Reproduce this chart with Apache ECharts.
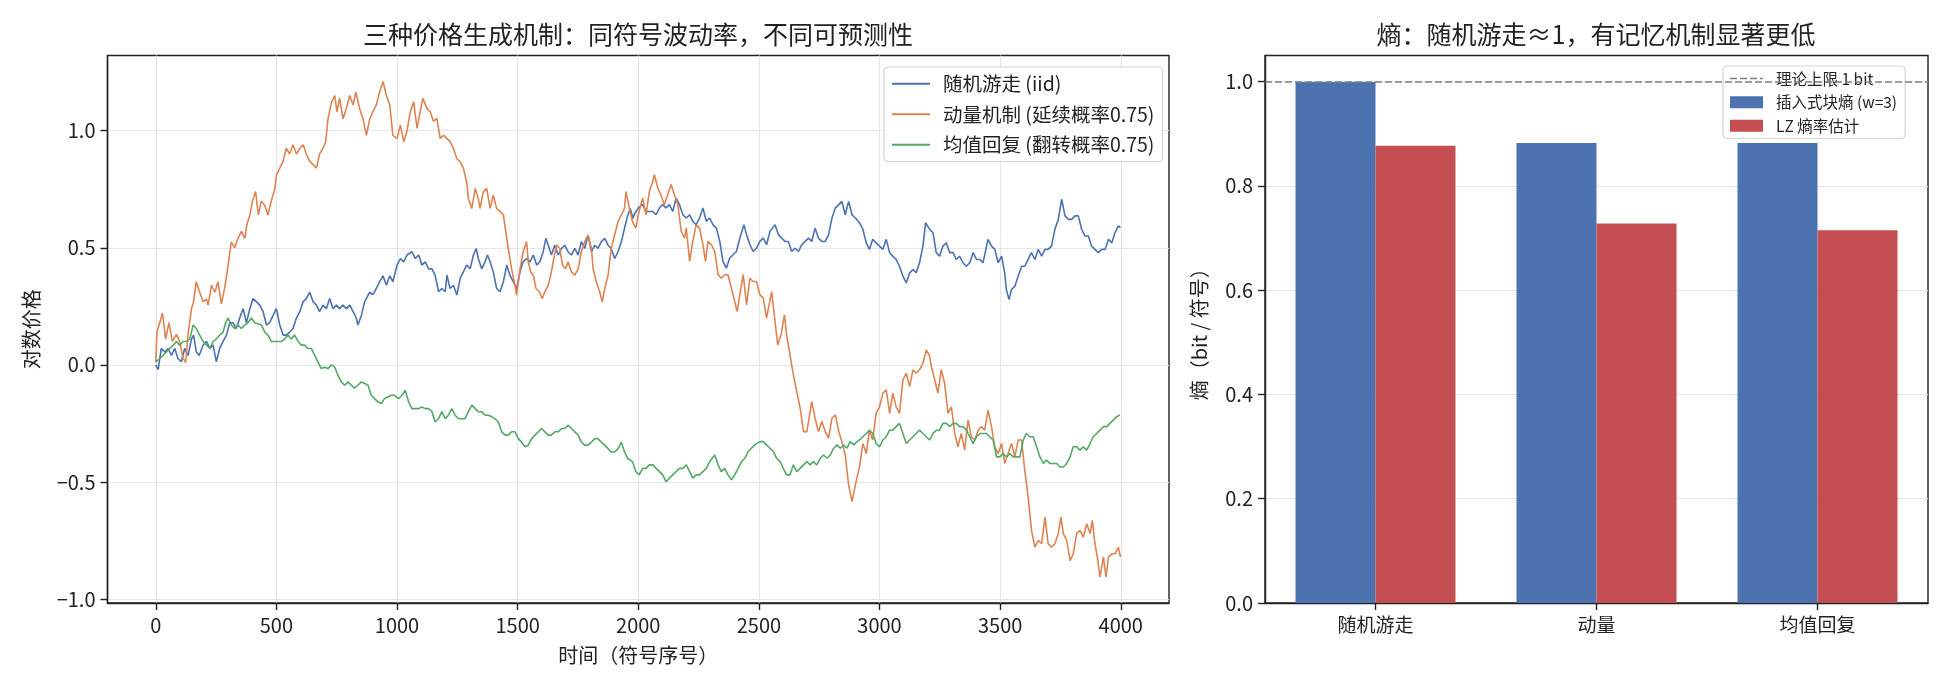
<!DOCTYPE html>
<html>
<head>
<meta charset="utf-8">
<script src="https://cdn.jsdelivr.net/npm/echarts@6/dist/echarts.min.js"></script>
<style>
html, body { margin: 0; padding: 0; background: #fff; }
#main { width: 1950px; height: 690px; }
</style>
</head>
<body>
<div id="main"></div>
<script>
// 左图：三种机制下的对数价格路径 [时间, 对数价格]
const randomWalk = [
  [0,0.0],[10,-0.02],[23,0.07],[37,0.055],[51,0.07],[65,0.04],[79,0.07],[92,0.027],[106,0.013],[120,0.07],[134,0.04],[148,0.11],[157,0.127],[168,0.055],[180,0.04],[196,0.084],[210,0.10],[224,0.07],[238,0.084],[251,0.013],[265,0.07],[279,0.10],[293,0.127],[307,0.18],[320,0.18],[334,0.155],[348,0.20],[362,0.24],[376,0.18],[390,0.24],[403,0.283],[417,0.27],[431,0.255],[445,0.227],[459,0.17],[472,0.18],[486,0.21],[500,0.24],[514,0.17],[528,0.127],[541,0.127],[555,0.14],[569,0.155],[583,0.20],[597,0.227],[611,0.27],[624,0.283],[638,0.31],[652,0.27],[666,0.255],[679,0.227],[693,0.255],[707,0.24],[721,0.283],[735,0.24],[749,0.255],[762,0.24],[776,0.255],[790,0.24],[804,0.255],[818,0.227],[831,0.20],[838,0.17],[852,0.21],[866,0.27],[887,0.31],[900,0.30],[914,0.326],[928,0.355],[942,0.38],[956,0.34],[970,0.38],[983,0.355],
  [1000,0.426],[1014,0.454],[1028,0.44],[1041,0.469],[1062,0.483],[1076,0.454],[1090,0.469],[1103,0.426],[1117,0.44],[1131,0.41],[1145,0.41],[1158,0.383],[1172,0.312],[1186,0.326],[1200,0.312],[1207,0.383],[1220,0.326],[1234,0.34],[1248,0.298],[1262,0.369],[1275,0.397],[1289,0.426],[1303,0.41],[1317,0.469],[1328,0.497],[1337,0.454],[1351,0.41],[1365,0.44],[1375,0.469],[1386,0.44],[1399,0.397],[1413,0.326],[1427,0.312],[1441,0.355],[1455,0.426],[1468,0.383],[1482,0.355],[1496,0.326],[1510,0.397],[1523,0.44],[1537,0.454],[1551,0.44],[1565,0.469],[1579,0.426],[1592,0.44],[1606,0.483],[1617,0.54],[1627,0.511],[1640,0.469],[1654,0.511],[1668,0.469],[1682,0.497],[1695,0.511],[1709,0.483],[1723,0.469],[1737,0.497],[1751,0.469],[1764,0.526],[1778,0.497],[1792,0.554],[1806,0.483],[1820,0.511],[1833,0.497],[1847,0.526],[1861,0.54],[1875,0.511],[1888,0.497],[1902,0.454],[1916,0.483],[1930,0.526],[1943,0.583],[1957,0.64],[1967,0.668],[1978,0.625],
  [1983,0.641],[2000,0.67],[2018,0.684],[2032,0.655],[2046,0.655],[2060,0.655],[2074,0.641],[2088,0.67],[2101,0.684],[2115,0.67],[2129,0.684],[2143,0.655],[2157,0.712],[2171,0.684],[2185,0.641],[2199,0.627],[2213,0.641],[2226,0.613],[2240,0.598],[2254,0.627],[2268,0.67],[2282,0.613],[2296,0.627],[2310,0.598],[2324,0.584],[2338,0.527],[2351,0.442],[2365,0.413],[2379,0.456],[2393,0.47],[2407,0.484],[2421,0.541],[2438,0.598],[2449,0.556],[2463,0.513],[2476,0.484],[2490,0.498],[2504,0.527],[2518,0.541],[2532,0.513],[2546,0.57],[2567,0.598],[2581,0.556],[2594,0.541],[2608,0.527],[2622,0.527],[2636,0.484],[2650,0.498],[2664,0.484],[2678,0.513],[2692,0.527],[2706,0.541],[2719,0.527],[2733,0.584],[2747,0.541],[2761,0.527],[2775,0.527],[2789,0.556],[2803,0.627],[2817,0.67],[2831,0.684],[2844,0.698],[2858,0.641],[2872,0.698],[2886,0.641],[2900,0.627],
  [2917,0.607],[2931,0.579],[2945,0.521],[2958,0.493],[2972,0.536],[2986,0.521],[3000,0.507],[3014,0.493],[3028,0.536],[3042,0.479],[3055,0.464],[3069,0.45],[3083,0.421],[3097,0.379],[3111,0.35],[3125,0.393],[3139,0.407],[3152,0.393],[3166,0.436],[3180,0.507],[3191,0.607],[3208,0.579],[3222,0.564],[3235,0.479],[3249,0.464],[3263,0.507],[3277,0.521],[3291,0.479],[3305,0.479],[3318,0.45],[3332,0.464],[3346,0.436],[3360,0.421],[3374,0.436],[3388,0.479],[3402,0.45],[3416,0.45],[3429,0.436],[3450,0.536],[3464,0.507],[3478,0.493],[3492,0.436],[3506,0.464],[3519,0.393],[3526,0.321],[3537,0.279],[3547,0.321],[3561,0.336],[3575,0.379],[3589,0.421],[3602,0.421],[3616,0.45],[3630,0.479],[3644,0.45],[3658,0.493],[3672,0.464],[3686,0.493],[3699,0.493],[3713,0.507],[3727,0.579],[3741,0.621],[3755,0.707],[3769,0.636],[3783,0.621],[3796,0.621],[3810,0.636],[3824,0.636],[3838,0.579],[3852,0.55],[3866,0.55],[3879,0.507],[3893,0.493],[3907,0.479],[3921,0.493],[3935,0.493],[3949,0.536],[3963,0.521],[3976,0.564],[3990,0.593],[3999,0.586]
];
const momentum = [
  [0,0.01],[5,0.14],[28,0.22],[41,0.11],[55,0.18],[69,0.10],[86,0.13],[99,0.10],[113,0.03],[124,0.01],[134,0.13],[148,0.24],[157,0.27],[168,0.355],[182,0.31],[196,0.27],[210,0.28],[217,0.255],[231,0.34],[245,0.31],[258,0.355],[272,0.26],[286,0.33],[300,0.425],[313,0.525],[327,0.50],[341,0.54],[355,0.57],[369,0.54],[378,0.60],[390,0.64],[401,0.70],[414,0.74],[425,0.64],[438,0.70],[452,0.68],[465,0.64],[479,0.70],[493,0.75],[500,0.81],[514,0.84],[528,0.87],[541,0.925],[555,0.90],[569,0.94],[583,0.90],[597,0.925],[611,0.94],[624,0.90],[638,0.87],[652,0.855],[666,0.84],[679,0.90],[693,0.925],[704,0.95],[714,1.05],[728,1.12],[742,1.15],[751,1.08],[762,1.14],[776,1.05],[790,1.095],[804,1.15],[818,1.11],[829,1.165],[845,1.095],[859,1.05],[873,0.98],[887,1.05],[900,1.08],[914,1.11],[928,1.165],[942,1.21],[956,1.15],[970,1.11],[983,0.98],
  [1000,0.967],[1014,1.024],[1028,0.953],[1041,0.996],[1055,1.08],[1069,1.124],[1083,1.01],[1096,1.08],[1107,1.138],[1124,1.095],[1138,1.08],[1151,1.04],[1165,1.053],[1179,0.967],[1193,0.98],[1207,0.967],[1220,0.953],[1234,0.924],[1248,0.88],[1262,0.867],[1275,0.84],[1289,0.78],[1296,0.71],[1310,0.668],[1324,0.753],[1337,0.71],[1344,0.668],[1358,0.74],[1372,0.753],[1386,0.668],[1399,0.725],[1413,0.668],[1427,0.654],[1441,0.64],[1448,0.64],[1461,0.497],[1475,0.41],[1489,0.34],[1496,0.298],[1510,0.41],[1523,0.483],[1537,0.526],[1544,0.44],[1554,0.397],[1565,0.383],[1576,0.326],[1590,0.312],[1602,0.283],[1613,0.312],[1627,0.34],[1640,0.397],[1650,0.454],[1661,0.511],[1675,0.497],[1686,0.426],[1699,0.41],[1709,0.44],[1723,0.397],[1737,0.383],[1751,0.41],[1764,0.483],[1778,0.526],[1792,0.554],[1806,0.497],[1813,0.41],[1826,0.355],[1840,0.312],[1851,0.269],[1861,0.326],[1875,0.383],[1888,0.497],[1902,0.554],[1916,0.611],[1930,0.64],[1943,0.668],
  [1949,0.74],[1963,0.67],[1976,0.613],[1990,0.584],[2000,0.641],[2018,0.712],[2032,0.641],[2046,0.74],[2060,0.783],[2067,0.812],[2081,0.755],[2094,0.726],[2108,0.684],[2122,0.726],[2136,0.77],[2150,0.726],[2164,0.684],[2178,0.57],[2192,0.541],[2199,0.584],[2213,0.442],[2226,0.527],[2240,0.598],[2254,0.584],[2268,0.513],[2279,0.442],[2289,0.527],[2303,0.513],[2317,0.484],[2331,0.385],[2344,0.37],[2358,0.385],[2372,0.385],[2386,0.328],[2400,0.27],[2410,0.228],[2421,0.30],[2435,0.385],[2449,0.256],[2463,0.37],[2476,0.356],[2490,0.356],[2504,0.30],[2518,0.285],[2532,0.20],[2553,0.313],[2567,0.185],[2578,0.085],[2592,0.128],[2606,0.214],[2615,0.128],[2629,0.043],[2643,-0.043],[2657,-0.114],[2671,-0.185],[2685,-0.285],[2699,-0.285],[2719,-0.157],[2733,-0.228],[2747,-0.285],[2761,-0.242],[2775,-0.285],[2789,-0.313],[2803,-0.228],[2817,-0.214],[2831,-0.285],[2844,-0.328],[2858,-0.385],[2872,-0.513],[2886,-0.584],[2900,-0.513],
  [2917,-0.436],[2931,-0.336],[2945,-0.379],[2958,-0.279],[2972,-0.321],[2986,-0.207],[3000,-0.179],[3014,-0.121],[3028,-0.107],[3042,-0.207],[3055,-0.121],[3069,-0.179],[3083,-0.207],[3097,-0.064],[3111,-0.036],[3125,-0.093],[3139,-0.021],[3152,-0.036],[3166,-0.021],[3180,0.007],[3194,0.064],[3208,0.036],[3215,-0.007],[3229,-0.064],[3242,-0.121],[3256,-0.021],[3270,-0.079],[3284,-0.207],[3298,-0.179],[3312,-0.293],[3325,-0.35],[3339,-0.293],[3353,-0.364],[3367,-0.236],[3381,-0.307],[3395,-0.321],[3409,-0.279],[3422,-0.264],[3436,-0.279],[3450,-0.193],[3464,-0.264],[3478,-0.35],[3492,-0.379],[3506,-0.336],[3519,-0.421],[3533,-0.379],[3547,-0.336],[3561,-0.393],[3575,-0.321],[3589,-0.321],[3602,-0.45],[3616,-0.564],[3630,-0.707],[3644,-0.779],[3658,-0.75],[3672,-0.764],[3686,-0.65],[3699,-0.764],[3713,-0.779],[3727,-0.764],[3741,-0.721],[3752,-0.65],[3762,-0.721],[3776,-0.75],[3790,-0.836],[3803,-0.807],[3817,-0.721],[3831,-0.707],[3845,-0.736],[3859,-0.679],[3873,-0.721],[3882,-0.664],[3893,-0.764],[3903,-0.821],[3914,-0.907],[3928,-0.821],[3939,-0.907],[3949,-0.821],[3963,-0.807],[3976,-0.807],[3990,-0.779],[3999,-0.821]
];
const meanRevert = [
  [0,0.013],[17,0.027],[30,0.04],[44,0.055],[58,0.07],[72,0.084],[86,0.10],[99,0.084],[113,0.10],[127,0.10],[141,0.11],[155,0.17],[168,0.155],[182,0.127],[196,0.10],[210,0.084],[224,0.07],[238,0.10],[251,0.11],[265,0.127],[279,0.14],[290,0.18],[300,0.20],[313,0.17],[327,0.155],[341,0.17],[355,0.155],[369,0.17],[383,0.18],[396,0.20],[410,0.18],[424,0.175],[438,0.17],[452,0.14],[465,0.127],[479,0.10],[493,0.10],[507,0.10],[521,0.10],[534,0.11],[548,0.127],[562,0.11],[576,0.127],[590,0.10],[604,0.084],[617,0.084],[631,0.07],[645,0.07],[659,0.04],[672,0.013],[686,-0.016],[700,-0.01],[714,-0.016],[728,0.0],[742,-0.01],[755,-0.044],[769,-0.073],[783,-0.087],[797,-0.073],[811,-0.087],[824,-0.10],[838,-0.087],[852,-0.073],[866,-0.08],[880,-0.087],[893,-0.13],[907,-0.144],[921,-0.158],[935,-0.165],[948,-0.144],[962,-0.137],[976,-0.13],[990,-0.13],
  [1007,-0.144],[1021,-0.13],[1034,-0.108],[1048,-0.158],[1062,-0.187],[1076,-0.187],[1090,-0.187],[1103,-0.18],[1117,-0.187],[1131,-0.187],[1145,-0.20],[1158,-0.244],[1172,-0.23],[1186,-0.20],[1200,-0.23],[1213,-0.215],[1227,-0.187],[1241,-0.215],[1255,-0.23],[1269,-0.23],[1282,-0.23],[1296,-0.20],[1310,-0.172],[1324,-0.187],[1337,-0.20],[1351,-0.20],[1365,-0.215],[1379,-0.215],[1393,-0.222],[1406,-0.23],[1420,-0.244],[1434,-0.286],[1448,-0.30],[1461,-0.30],[1475,-0.286],[1489,-0.286],[1503,-0.315],[1516,-0.33],[1530,-0.35],[1544,-0.343],[1558,-0.315],[1572,-0.30],[1586,-0.286],[1599,-0.272],[1613,-0.286],[1627,-0.30],[1640,-0.30],[1654,-0.286],[1668,-0.286],[1682,-0.272],[1695,-0.272],[1709,-0.258],[1723,-0.272],[1737,-0.286],[1751,-0.30],[1764,-0.33],[1778,-0.343],[1792,-0.343],[1806,-0.33],[1820,-0.315],[1833,-0.315],[1847,-0.33],[1861,-0.343],[1875,-0.358],[1888,-0.372],[1902,-0.372],[1916,-0.358],[1930,-0.33],[1943,-0.372],[1957,-0.40],
  [1976,-0.413],[1990,-0.456],[2004,-0.47],[2018,-0.442],[2032,-0.442],[2046,-0.427],[2060,-0.427],[2074,-0.442],[2088,-0.456],[2101,-0.47],[2115,-0.499],[2129,-0.484],[2143,-0.47],[2157,-0.456],[2171,-0.442],[2185,-0.442],[2199,-0.427],[2213,-0.456],[2226,-0.484],[2240,-0.47],[2254,-0.47],[2268,-0.456],[2282,-0.442],[2296,-0.413],[2317,-0.385],[2331,-0.427],[2344,-0.456],[2358,-0.442],[2372,-0.47],[2386,-0.491],[2400,-0.47],[2414,-0.442],[2428,-0.413],[2442,-0.399],[2456,-0.37],[2469,-0.356],[2483,-0.342],[2504,-0.328],[2518,-0.328],[2532,-0.342],[2546,-0.356],[2560,-0.37],[2574,-0.399],[2588,-0.413],[2601,-0.442],[2615,-0.47],[2629,-0.47],[2643,-0.427],[2657,-0.456],[2671,-0.442],[2685,-0.427],[2699,-0.413],[2713,-0.427],[2726,-0.413],[2740,-0.427],[2754,-0.399],[2768,-0.385],[2782,-0.399],[2796,-0.385],[2810,-0.356],[2824,-0.342],[2838,-0.356],[2851,-0.342],[2865,-0.356],[2879,-0.328],[2893,-0.342],[2907,-0.328],
  [2917,-0.321],[2931,-0.307],[2945,-0.293],[2958,-0.279],[2972,-0.293],[2986,-0.336],[3000,-0.35],[3014,-0.321],[3028,-0.307],[3042,-0.279],[3055,-0.279],[3069,-0.264],[3083,-0.25],[3097,-0.293],[3111,-0.336],[3125,-0.321],[3139,-0.307],[3152,-0.293],[3166,-0.279],[3180,-0.293],[3194,-0.307],[3208,-0.321],[3222,-0.293],[3235,-0.279],[3249,-0.279],[3263,-0.25],[3277,-0.25],[3291,-0.264],[3305,-0.25],[3318,-0.25],[3332,-0.264],[3346,-0.264],[3360,-0.279],[3374,-0.307],[3388,-0.336],[3402,-0.307],[3416,-0.293],[3429,-0.293],[3443,-0.293],[3457,-0.307],[3471,-0.321],[3485,-0.393],[3499,-0.393],[3512,-0.379],[3526,-0.393],[3540,-0.379],[3554,-0.393],[3568,-0.393],[3582,-0.393],[3596,-0.321],[3609,-0.293],[3623,-0.307],[3637,-0.307],[3651,-0.35],[3665,-0.393],[3679,-0.421],[3692,-0.407],[3706,-0.421],[3720,-0.421],[3734,-0.421],[3748,-0.436],[3762,-0.436],[3776,-0.421],[3790,-0.393],[3803,-0.35],[3817,-0.35],[3831,-0.364],[3845,-0.35],[3859,-0.364],[3873,-0.336],[3886,-0.307],[3900,-0.293],[3914,-0.279],[3928,-0.264],[3942,-0.264],[3955,-0.25],[3969,-0.236],[3983,-0.221],[3997,-0.214]
];
const timeTicks = [0, 500, 1000, 1500, 2000, 2500, 3000, 3500, 4000];
const priceTicks = [-1.0, -0.5, 0.0, 0.5, 1.0];

// 右图：各机制的熵估计
const mechanisms = ['随机游走', '动量', '均值回复'];
const blockEntropy = [0.999, 0.882, 0.882];
const lzEntropy = [0.877, 0.728, 0.715];
const entropyTicks = [0.0, 0.2, 0.4, 0.6, 0.8, 1.0];
const upperBound = 1.0;

const FONT = "'Noto Sans CJK SC', 'Noto Sans', sans-serif";
const INK = '#222';
const GRID_LINE = '#e6e6e6';
const fmt = v => (v < 0 ? '\u2212' : '') + Math.abs(v).toFixed(1);

// 图例图标：实线、虚线（四角的极小三角只用来撑开图标范围）
const LINE_ICON = 'path://M0,0L0.01,0L0.01,0.01Z M0,8h38v2h-38z M38,18L37.99,18L37.99,17.99Z';
const DASH_ICON = 'path://M0,0L0.01,0L0.01,0.01Z M0,5h7v1.6h-7z M10,5h7v1.6h-7z M20,5h7v1.6h-7z M30,5h3v1.6h-3z M33,12L32.99,12L32.99,11.99Z';

const chart = echarts.init(document.getElementById('main'), null, { renderer: 'canvas' });

const axisLine = { show: true, onZero: false, lineStyle: { color: INK, width: 1.4 } };
const axisTick = { show: true, length: 7, inside: false, lineStyle: { color: INK, width: 1.4 } };
const axisLabel = { color: INK, fontSize: 20, fontFamily: FONT, margin: 12 };
const nameTextStyle = { color: INK, fontSize: 20, fontFamily: FONT };

chart.setOption({
  animation: false,
  backgroundColor: '#fff',
  textStyle: { fontFamily: FONT },
  title: [{
    text: '三种价格生成机制：同符号波动率，不同可预测性',
    left: 638, top: 22, textAlign: 'center', padding: 0,
    textStyle: { fontSize: 25, fontWeight: 'normal', color: INK, fontFamily: FONT }
  }, {
    text: '熵：随机游走≈1，有记忆机制显著更低',
    left: 1596, top: 22, textAlign: 'center', padding: 0,
    textStyle: { fontSize: 25, fontWeight: 'normal', color: INK, fontFamily: FONT }
  }],
  legend: [{
    data: [
      { name: '随机游走 (iid)', icon: LINE_ICON },
      { name: '动量机制 (延续概率0.75)', icon: LINE_ICON },
      { name: '均值回复 (翻转概率0.75)', icon: LINE_ICON }
    ],
    orient: 'vertical', left: 884, top: 67,
    padding: [7, 8, 7, 8], itemGap: 11,
    itemWidth: 38, itemHeight: 18,
    backgroundColor: 'rgba(255,255,255,0.85)',
    borderColor: '#d5d5d5', borderWidth: 1.2, borderRadius: 4,
    textStyle: { fontSize: 19.5, color: INK, fontFamily: FONT, padding: [0, 0, 0, 8] }
  }, {
    data: [
      { name: '理论上限 1 bit', icon: DASH_ICON },
      { name: '插入式块熵 (w=3)', icon: 'rect' },
      { name: 'LZ 熵率估计', icon: 'rect' }
    ],
    orient: 'vertical', left: 1723, top: 66,
    padding: [5, 8, 5, 7], itemGap: 8,
    itemWidth: 33, itemHeight: 12,
    backgroundColor: 'rgba(255,255,255,0.85)',
    borderColor: '#d5d5d5', borderWidth: 1.2, borderRadius: 4,
    textStyle: { fontSize: 15.5, color: INK, fontFamily: FONT, padding: [0, 0, 0, 8] }
  }],
  grid: [{
    left: 107.5, top: 55.5, width: 1061.5, height: 547.5,
    show: true, borderColor: INK, borderWidth: 1.4, backgroundColor: 'transparent'
  }, {
    left: 1265, top: 55.5, width: 663, height: 547.5,
    show: true, borderColor: INK, borderWidth: 1.4, backgroundColor: 'transparent'
  }],
  xAxis: [{
    type: 'value', gridIndex: 0, min: -200, max: 4200,
    name: '时间（符号序号）', nameLocation: 'middle', nameGap: 42, nameTextStyle,
    axisLine,
    axisTick: Object.assign({}, axisTick, { customValues: timeTicks }),
    axisLabel: Object.assign({}, axisLabel, { customValues: timeTicks, formatter: v => String(v) }),
    splitLine: { show: true, lineStyle: { color: GRID_LINE, width: 1.2 } }
  }, {
    type: 'category', gridIndex: 1, data: mechanisms,
    axisLine,
    axisTick: Object.assign({}, axisTick, { alignWithLabel: true }),
    axisLabel: Object.assign({}, axisLabel, { fontSize: 19 }),
    splitLine: { show: false }
  }],
  yAxis: [{
    type: 'value', gridIndex: 0, min: -1.017, max: 1.321,
    name: '对数价格', nameLocation: 'middle', nameGap: 66, nameTextStyle,
    axisLine,
    axisTick: Object.assign({}, axisTick, { customValues: priceTicks }),
    axisLabel: Object.assign({}, axisLabel, { customValues: priceTicks, formatter: fmt }),
    splitLine: { show: true, lineStyle: { color: GRID_LINE, width: 1.2 } }
  }, {
    type: 'value', gridIndex: 1, min: 0, max: 1.05,
    name: '熵（bit / 符号）', nameLocation: 'middle', nameGap: 56, nameTextStyle,
    axisLine,
    axisTick: Object.assign({}, axisTick, { customValues: entropyTicks }),
    axisLabel: Object.assign({}, axisLabel, { customValues: entropyTicks, formatter: fmt }),
    splitLine: { show: true, lineStyle: { color: GRID_LINE, width: 1.2 } }
  }],
  series: [{
    name: '随机游走 (iid)', type: 'line', xAxisIndex: 0, yAxisIndex: 0,
    data: randomWalk, symbol: 'none', showSymbol: false,
    lineStyle: { color: '#4C72B0', width: 1.6 }, itemStyle: { color: '#4C72B0' }
  }, {
    name: '动量机制 (延续概率0.75)', type: 'line', xAxisIndex: 0, yAxisIndex: 0,
    data: momentum, symbol: 'none', showSymbol: false,
    lineStyle: { color: '#DD8452', width: 1.6 }, itemStyle: { color: '#DD8452' }
  }, {
    name: '均值回复 (翻转概率0.75)', type: 'line', xAxisIndex: 0, yAxisIndex: 0,
    data: meanRevert, symbol: 'none', showSymbol: false,
    lineStyle: { color: '#55A868', width: 1.6 }, itemStyle: { color: '#55A868' }
  }, {
    name: '插入式块熵 (w=3)', type: 'bar', xAxisIndex: 1, yAxisIndex: 1,
    data: blockEntropy, barWidth: 80, barGap: '0%',
    itemStyle: { color: '#4C72B0' }
  }, {
    name: 'LZ 熵率估计', type: 'bar', xAxisIndex: 1, yAxisIndex: 1,
    data: lzEntropy, barWidth: 80, barGap: '0%',
    itemStyle: { color: '#C44E52' }
  }, {
    name: '理论上限 1 bit', type: 'line', xAxisIndex: 1, yAxisIndex: 1,
    data: [], symbol: 'none',
    lineStyle: { color: '#7f7f7f', width: 1.5, type: [7, 3] },
    itemStyle: { color: '#7f7f7f' },
    markLine: {
      silent: true, symbol: 'none', label: { show: false },
      lineStyle: { color: '#7f7f7f', width: 1.5, type: [7, 3] },
      data: [{ yAxis: upperBound }]
    }
  }]
});
</script>
</body>
</html>
